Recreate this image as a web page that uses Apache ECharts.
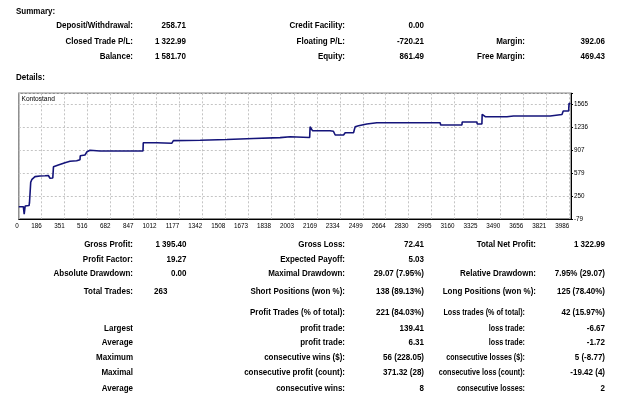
<!DOCTYPE html>
<html>
<head>
<meta charset="utf-8">
<script src="https://cdn.jsdelivr.net/npm/echarts@6/dist/echarts.min.js"></script>
<style>
  html, body { margin: 0; padding: 0; background: #fff; }
  #main { width: 625px; height: 395px; }
</style>
</head>
<body>
<div id="main"></div>
<script>
// balance curve (x = bar index, y = balance)
const tradeX = [21, 54, 60, 67, 95, 98, 107, 116, 138, 174, 210, 234, 246, 266, 271, 306, 354, 390, 438, 462, 464, 498, 513, 534, 606, 916, 918, 1015, 1123, 1135, 1328, 1520, 1712, 1904, 1976, 1983, 2117, 2120, 2137, 2264, 2288, 2301, 2361, 2373, 2433, 2445, 2469, 2529, 2601, 3057, 3061, 3214, 3216, 3322, 3324, 3358, 3360, 3382, 3538, 3586, 3850, 3935, 3944, 3983, 3986, 3995];
const balance = [95, 95, -14, 105, 112, 148, 445, 488, 526, 536, 540, 543, 503, 507, 669, 694, 727, 747, 755, 770, 827, 837, 885, 905, 895, 895, 1014, 1014, 1005, 1043, 1048, 1060, 1074, 1086, 1100, 1091, 1088, 1244, 1186, 1186, 1178, 1124, 1124, 1157, 1157, 1244, 1258, 1282, 1301, 1301, 1268, 1268, 1311, 1311, 1282, 1282, 1422, 1387, 1387, 1397, 1397, 1419, 1469, 1469, 1580, 1570];

// axis ticks as printed
const xStart = 21.15, xStep = 165.228, xEnd = 4000;
const yStart = -79, yStep = 328.8, yEnd = 1723;

// summary block
const summaryCol1 = [['Deposit/Withdrawal:', '258.71'], ['Closed Trade P/L:', '1 322.99'], ['Balance:', '1 581.70']];
const summaryCol2 = [['Credit Facility:', '0.00'], ['Floating P/L:', '-720.21'], ['Equity:', '861.49']];
const summaryCol3 = [['', ''], ['Margin:', '392.06'], ['Free Margin:', '469.43']];

// details block
const detailRows = [
  ['Gross Profit:', '1 395.40', 'Gross Loss:', '72.41', 'Total Net Profit:', '1 322.99'],
  ['Profit Factor:', '19.27', 'Expected Payoff:', '5.03', '', ''],
  ['Absolute Drawdown:', '0.00', 'Maximal Drawdown:', '29.07 (7.95%)', 'Relative Drawdown:', '7.95% (29.07)'],
  ['Total Trades:', '263', 'Short Positions (won %):', '138 (89.13%)', 'Long Positions (won %):', '125 (78.40%)'],
  ['', '', 'Profit Trades (% of total):', '221 (84.03%)', 'Loss trades (% of total):', '42 (15.97%)'],
  ['Largest', '', 'profit trade:', '139.41', 'loss trade:', '-6.67'],
  ['Average', '', 'profit trade:', '6.31', 'loss trade:', '-1.72'],
  ['Maximum', '', 'consecutive wins ($):', '56 (228.05)', 'consecutive losses ($):', '5 (-8.77)'],
  ['Maximal', '', 'consecutive profit (count):', '371.32 (28)', 'consecutive loss (count):', '-19.42 (4)'],
  ['Average', '', 'consecutive wins:', '8', 'consecutive losses:', '2']
];

const FONT = 'bold 9.3px "Liberation Sans", Arial, sans-serif';
const summaryY = [25.7, 41.7, 56.7];
const detailY = [244.3, 259, 273.3, 291.7, 312.5, 328, 342.7, 357.3, 372.5, 388];

// squeeze text horizontally so it keeps the narrow look of the report font
function txt(s, x, y, align, font, sx) {
  return {
    type: 'text',
    x: x, y: y,
    scaleX: sx || 0.86,
    style: { text: s, x: 0, y: 0, fill: '#000', font: font || FONT, textAlign: align || 'right', textVerticalAlign: 'middle' }
  };
}

let graphics = [];
graphics.push(txt('Summary:', 16, 11, 'left'));
graphics.push(txt('Details:', 16, 77.7, 'left'));
summaryY.forEach((y, i) => {
  graphics.push(txt(summaryCol1[i][0], 133, y));
  graphics.push(txt(summaryCol1[i][1], 186, y));
  graphics.push(txt(summaryCol2[i][0], 345, y));
  graphics.push(txt(summaryCol2[i][1], 424, y));
  graphics.push(txt(summaryCol3[i][0], 525, y));
  graphics.push(txt(summaryCol3[i][1], 605, y));
});
detailRows.forEach((r, i) => {
  const y = detailY[i];
  graphics.push(txt(r[0], 133, y));
  // total trades value sits left aligned
  if (i === 3) graphics.push(txt(r[1], 154, y, 'left'));
  else graphics.push(txt(r[1], 186.5, y));
  graphics.push(txt(r[2], 345, y));
  graphics.push(txt(r[3], 424, y));
  if (i < 4) graphics.push(txt(r[4], 536, y));
  else graphics.push(txt(r[4], 525, y, 'right', FONT, 0.77));
  graphics.push(txt(r[5], 605, y));
});
graphics.push(txt('Kontostand', 21.5, 99, 'left', '6.6px "Liberation Sans", Arial, sans-serif', 1));

const myChart = echarts.init(document.getElementById('main'), null, { renderer: 'canvas' });
const option = {
  backgroundColor: '#fff',
  animation: false,
  grid: {
    left: 18.8, right: 54, top: 93.3, bottom: 176.2,
    show: true, borderColor: '#8a8a8a', borderWidth: 1.5, backgroundColor: '#fff'
  },
  xAxis: {
    type: 'value',
    min: xStart, max: xEnd, interval: xStep,
    axisLine: { show: true, onZero: false, lineStyle: { color: '#000', width: 1 } },
    axisTick: { show: false },
    splitLine: { show: true, lineStyle: { color: '#c4c4c4', type: [2, 2], width: 1 } },
    axisLabel: {
      color: '#000', fontSize: 6.3, fontFamily: '"Liberation Sans", Arial, sans-serif',
      margin: 4, align: 'right',
      formatter: function (v) {
        if (v < 100) return '0';
        if (v > 3990) return '';
        return String(Math.floor(v + 0.01));
      }
    }
  },
  yAxis: {
    type: 'value', position: 'right',
    min: yStart, max: yEnd, interval: yStep,
    axisLine: { show: true, onZero: false, lineStyle: { color: '#000', width: 1 } },
    axisTick: { show: true, length: 2, lineStyle: { color: '#000' } },
    splitLine: { show: true, lineStyle: { color: '#c4c4c4', type: [2, 2], width: 1 } },
    axisLabel: {
      color: '#000', fontSize: 6.3, fontFamily: '"Liberation Sans", Arial, sans-serif',
      margin: 3,
      formatter: function (v) {
        if (v > 1600) return '';
        return String(Math.round(v));
      }
    }
  },
  series: [{
    name: 'Kontostand',
    type: 'line',
    data: tradeX.map((x, i) => [x, balance[i]]),
    showSymbol: false,
    lineStyle: { color: '#14147a', width: 1.6 },
    z: 3
  }],
  graphic: graphics
};
myChart.setOption(option, true);
window.addEventListener('resize', function () { myChart.resize(); });
</script>
</body>
</html>
